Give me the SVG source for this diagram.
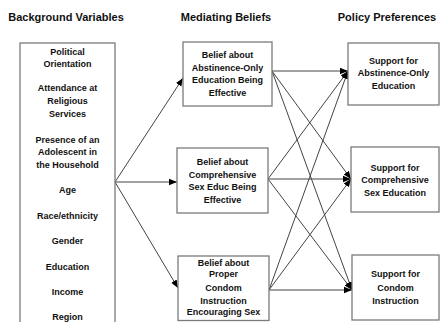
<svg xmlns="http://www.w3.org/2000/svg" width="440" height="322" viewBox="0 0 440 322">
<style>
text{font-family:"Liberation Sans",Arial,sans-serif;font-weight:bold;fill:#111;text-anchor:middle}
.h{font-size:11px}
.t{font-size:9px}
.box{fill:#fff;stroke:#7a7a7a;stroke-width:1.3}
.c{stroke:#444;stroke-width:1;fill:none;marker-end:url(#ah)}
</style>
<defs>
<marker id="ah" markerUnits="userSpaceOnUse" markerWidth="8" markerHeight="8" viewBox="0 0 8 8" refX="8" refY="4" orient="auto">
<path d="M0,0.8 L8,4 L0,7.2 z" fill="#000"/>
</marker>
</defs>
<rect width="440" height="322" fill="#fff"/>
<g id="headers">
<text class="h" x="66" y="21">Background Variables</text>
<text class="h" x="226" y="21">Mediating Beliefs</text>
<text class="h" x="387" y="21">Policy Preferences</text>
</g>
<g id="connectors">
<line class="c" x1="115" y1="182" x2="183" y2="78"/>
<line class="c" x1="115" y1="182" x2="177" y2="182"/>
<line class="c" x1="115" y1="182" x2="178" y2="288"/>
<line class="c" x1="272" y1="71" x2="348" y2="71"/>
<line class="c" x1="272" y1="71" x2="351" y2="179"/>
<line class="c" x1="272" y1="71" x2="352" y2="290"/>
<line class="c" x1="268" y1="179" x2="348" y2="71"/>
<line class="c" x1="268" y1="179" x2="351" y2="179"/>
<line class="c" x1="268" y1="179" x2="352" y2="290"/>
<line class="c" x1="269" y1="290" x2="348" y2="71"/>
<line class="c" x1="269" y1="290" x2="351" y2="179"/>
<line class="c" x1="269" y1="290" x2="352" y2="290"/>
</g>
<g id="background">
<rect class="box" x="20" y="43" width="95" height="290"/>
<text class="t" x="67.5" y="55">Political</text>
<text class="t" x="67.5" y="67">Orientation</text>
<text class="t" x="67.5" y="91">Attendance at</text>
<text class="t" x="67.5" y="104">Religious</text>
<text class="t" x="67.5" y="117">Services</text>
<text class="t" x="67.5" y="143">Presence of an</text>
<text class="t" x="67.5" y="155">Adolescent in</text>
<text class="t" x="67.5" y="168">the Household</text>
<text class="t" x="67.5" y="193">Age</text>
<text class="t" x="67.5" y="219">Race/ethnicity</text>
<text class="t" x="67.5" y="244">Gender</text>
<text class="t" x="67.5" y="270">Education</text>
<text class="t" x="67.5" y="295">Income</text>
<text class="t" x="67.5" y="320">Region</text>
</g>
<g id="belief-abstinence">
<rect class="box" x="183" y="42" width="89" height="64"/>
<text class="t" x="227.5" y="58">Belief about</text>
<text class="t" x="227.5" y="71">Abstinence-Only</text>
<text class="t" x="227.5" y="83">Education Being</text>
<text class="t" x="227.5" y="96">Effective</text>
</g>
<g id="belief-comprehensive">
<rect class="box" x="177" y="148" width="91" height="65"/>
<text class="t" x="222.5" y="165">Belief about</text>
<text class="t" x="222.5" y="178">Comprehensive</text>
<text class="t" x="222.5" y="190">Sex Educ Being</text>
<text class="t" x="222.5" y="203">Effective</text>
</g>
<g id="belief-condom">
<rect class="box" x="178" y="256" width="91" height="64.5"/>
<text class="t" x="223.5" y="266">Belief about</text>
<text class="t" x="223.5" y="277">Proper</text>
<text class="t" x="223.5" y="291">Condom</text>
<text class="t" x="223.5" y="304">Instruction</text>
<text class="t" x="223.5" y="315">Encouraging Sex</text>
</g>
<g id="support-abstinence">
<rect class="box" x="348" y="43" width="91" height="62"/>
<text class="t" x="393.5" y="64">Support for</text>
<text class="t" x="393.5" y="76">Abstinence-Only</text>
<text class="t" x="393.5" y="89">Education</text>
</g>
<g id="support-comprehensive">
<rect class="box" x="351" y="147" width="88" height="65"/>
<text class="t" x="395" y="171">Support for</text>
<text class="t" x="395" y="183">Comprehensive</text>
<text class="t" x="395" y="196">Sex Education</text>
</g>
<g id="support-condom">
<rect class="box" x="352" y="255" width="87" height="65"/>
<text class="t" x="395.5" y="277">Support for</text>
<text class="t" x="395.5" y="291">Condom</text>
<text class="t" x="395.5" y="304">Instruction</text>
</g>
</svg>
